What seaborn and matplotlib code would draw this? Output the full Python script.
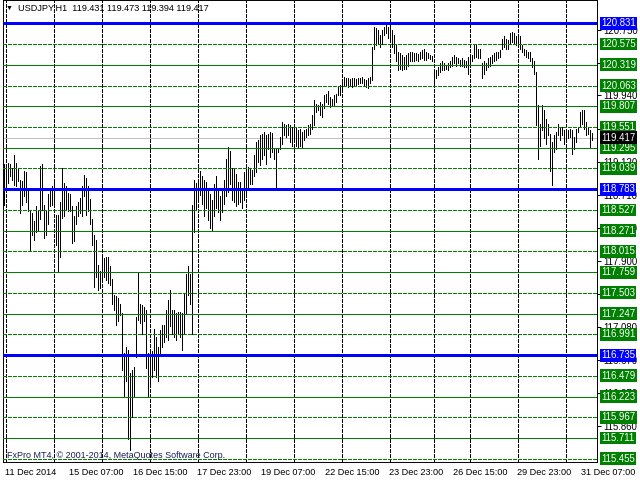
import numpy as np
import pandas as pd
import matplotlib
matplotlib.use('Agg')
import matplotlib.pyplot as plt
import matplotlib.transforms as mtransforms
import seaborn as sns

# hourly USDJPY bars (high / low per bar)
highs = [
    119.09, 119.07, 119.11, 119.09, 119.05, 119.20, 119.11, 119.03, 118.90, 118.88,
    119.01, 118.99, 118.78, 118.51, 118.49, 118.39, 118.57, 118.53, 119.07, 119.09,
    118.59, 118.53, 118.72, 118.78, 118.82, 118.86, 118.47, 118.47, 118.63, 119.05,
    118.86, 118.82, 118.74, 118.72, 118.57, 118.45, 118.57, 118.63, 118.68, 118.82,
    118.96, 118.92, 118.82, 118.66, 118.41, 118.22, 118.16, 117.85, 117.77, 117.93,
    117.93, 117.95, 117.95, 117.83, 117.68, 117.48, 117.46, 117.44, 117.37, 117.25,
    116.76, 116.84, 116.80, 116.51, 116.55, 116.59, 117.21, 117.75, 117.37, 117.35,
    117.33, 117.29, 116.76, 116.80, 116.78, 117.06, 116.96, 116.84, 117.04, 117.11,
    117.11, 117.29, 117.42, 117.54, 117.29, 117.29, 117.25, 117.27, 117.27, 117.25,
    117.50, 117.73, 117.83, 117.73, 118.59, 118.90, 118.86, 118.86, 119.01,
    118.95, 118.90, 118.87, 118.80, 118.72, 118.65, 118.85, 118.95, 118.80, 118.70,
    118.78, 118.90, 119.15, 119.30, 119.25, 119.05, 119.05, 118.97, 118.87, 118.87,
    118.80, 118.99, 119.06, 119.06, 119.04, 119.02, 119.20,
    119.37, 119.39, 119.45, 119.47, 119.49, 119.45, 119.47, 119.49, 119.48, 119.28,
    119.28, 119.28, 119.43, 119.61, 119.59, 119.57, 119.59, 119.58, 119.55, 119.59,
    119.55, 119.51, 119.53, 119.49, 119.51, 119.53, 119.57, 119.59, 119.70, 119.88,
    119.84, 119.82, 119.86, 119.84, 119.94, 119.96, 120.00, 119.92, 119.90, 119.94,
    119.96, 120.05, 120.07, 120.09, 120.17, 120.15, 120.15, 120.14, 120.15, 120.15,
    120.14, 120.15, 120.16, 120.17, 120.14, 120.13, 120.15, 120.17, 120.54, 120.79,
    120.77, 120.75, 120.69, 120.75, 120.79, 120.82, 120.79, 120.77,
    120.75, 120.69, 120.58, 120.48, 120.46, 120.44, 120.42, 120.44, 120.46, 120.48,
    120.48, 120.46, 120.47, 120.45, 120.48, 120.50, 120.52, 120.48, 120.46, 120.44,
    120.43, 120.27, 120.25, 120.29, 120.34, 120.36, 120.34, 120.31, 120.34, 120.36,
    120.42, 120.44, 120.42, 120.40, 120.38, 120.40, 120.38, 120.36, 120.42, 120.42,
    120.44, 120.56, 120.58, 120.52, 120.52, 120.34, 120.36, 120.34, 120.40, 120.42,
    120.44, 120.46, 120.48, 120.48, 120.50, 120.64, 120.67, 120.64, 120.62, 120.71,
    120.73, 120.71, 120.67, 120.69, 120.67, 120.56, 120.52, 120.50, 120.48, 120.48,
    120.40, 120.36, 120.23, 119.82, 119.59, 119.82, 119.76, 119.65, 119.59, 119.47,
    119.36, 119.45, 119.49, 119.59, 119.55, 119.55, 119.51, 119.51, 119.51, 119.53,
    119.51, 119.43, 119.53, 119.55, 119.74, 119.76, 119.76, 119.61, 119.55, 119.51,
    119.473,
]
lows = [
    118.59, 118.82, 118.86, 118.94, 118.90, 118.84, 118.82, 118.88, 118.49, 118.59,
    118.70, 118.63, 118.51, 118.03, 118.22, 118.16, 118.26, 118.28, 118.41, 118.53,
    118.18, 118.22, 118.35, 118.57, 118.59, 118.59, 118.10, 117.77, 117.95, 118.43,
    118.45, 118.53, 118.51, 118.51, 118.12, 118.14, 118.35, 118.45, 118.49, 118.45,
    118.70, 118.47, 118.51, 118.35, 118.10, 117.58, 117.70, 117.54, 117.56, 117.64,
    117.70, 117.66, 117.62, 117.60, 117.37, 117.29, 117.11, 117.15, 117.23, 116.55,
    116.22, 116.42, 115.70, 115.56, 115.97, 116.22, 116.71, 117.17, 117.13, 117.00,
    117.15, 116.57, 116.22, 116.35, 116.47, 116.55, 116.47, 116.42, 116.76, 116.84,
    116.90, 116.96, 116.92, 117.09, 117.00, 116.96, 116.92, 117.00, 116.96, 116.80,
    117.00, 117.25, 117.48, 117.37, 117.00, 118.26, 118.53, 118.66, 118.71,
    118.60, 118.45, 118.55, 118.40, 118.30, 118.27, 118.45, 118.55, 118.50, 118.40,
    118.50, 118.60, 118.70, 118.75, 118.85, 118.65, 118.62, 118.58, 118.60, 118.62,
    118.55, 118.65, 118.72, 118.78, 118.85, 118.85, 118.95,
    118.99, 119.12, 119.08, 119.16, 119.20, 119.10, 119.28, 119.18, 119.24, 119.16,
    118.81, 119.24, 119.28, 119.34, 119.45, 119.43, 119.45, 119.36, 119.32, 119.41,
    119.32, 119.30, 119.32, 119.30, 119.39, 119.43, 119.45, 119.47, 119.53, 119.57,
    119.74, 119.76, 119.70, 119.67, 119.78, 119.86, 119.84, 119.80, 119.82, 119.82,
    119.86, 119.94, 119.94, 120.00, 120.07, 120.07, 120.05, 120.06, 120.05, 120.07,
    120.07, 120.08, 120.09, 120.09, 120.06, 120.05, 120.03, 120.09, 120.13, 120.52,
    120.56, 120.58, 120.54, 120.58, 120.69, 120.71, 120.65, 120.65,
    120.54, 120.46, 120.36, 120.25, 120.27, 120.25, 120.27, 120.27, 120.31, 120.36,
    120.36, 120.36, 120.38, 120.36, 120.39, 120.40, 120.38, 120.38, 120.40, 120.39,
    120.36, 120.09, 120.15, 120.19, 120.23, 120.25, 120.25, 120.27, 120.25, 120.29,
    120.31, 120.34, 120.31, 120.34, 120.31, 120.31, 120.29, 120.29, 120.21, 120.31,
    120.36, 120.40, 120.42, 120.40, 120.40, 120.15, 120.21, 120.25, 120.29, 120.31,
    120.34, 120.36, 120.38, 120.40, 120.42, 120.52, 120.54, 120.52, 120.52, 120.58,
    120.60, 120.58, 120.56, 120.56, 120.52, 120.48, 120.44, 120.42, 120.40, 120.36,
    120.29, 120.21, 119.57, 119.16, 119.32, 119.51, 119.41, 119.34, 119.45, 119.01,
    118.83, 119.24, 119.28, 119.45, 119.39, 119.45, 119.34, 119.37, 119.41, 119.43,
    119.22, 119.28, 119.37, 119.49, 119.55, 119.59, 119.53, 119.45, 119.47, 119.30,
    119.394,
]

# horizontal levels drawn on the chart
solid_levels = [120.319, 119.807, 119.295, 118.271, 117.759, 117.247, 116.223, 115.711]
dashed_levels = [120.575, 120.063, 119.551, 119.039, 118.527, 118.015, 117.503,
                 116.991, 116.479, 115.967, 115.455]
blue_levels = [120.831, 118.783, 116.735]
bid = 119.417

# price scale ticks on the right (some are hidden under the level boxes)
price_ticks = [120.750, 120.340, 119.940, 119.530, 119.120, 118.710, 118.300,
               117.900, 117.490, 117.080, 116.670, 116.270, 115.860]
hidden_ticks = [120.340, 119.530, 117.490]

# bar index of first bar of each day (vertical grid) and time labels
day_starts = [1, 25, 49, 73, 97, 121, 145, 169, 193, 215, 233, 257, 281]
time_ticks = [0, 32, 64, 96, 128, 160, 192, 224, 256, 288]
time_labels = ['11 Dec 2014', '15 Dec 07:00', '16 Dec 15:00', '17 Dec 23:00',
               '19 Dec 07:00', '22 Dec 15:00', '23 Dec 23:00', '26 Dec 15:00',
               '29 Dec 23:00', '31 Dec 07:00']

header = 'USDJPY,H1  119.431 119.473 119.394 119.417'
copyright_txt = 'FxPro MT4, \u00a9 2001-2014, MetaQuotes Software Corp.'

sns.set_style('white')
plt.rcParams['font.family'] = ['Liberation Sans', 'DejaVu Sans']

fig = plt.figure(figsize=(6.4, 4.8), dpi=100)
ax = fig.add_axes([3 / 640, 18 / 480, 594 / 640, 462 / 480])

# long table: two points (low, high) per bar -> one vertical stroke per unit
n = len(highs)
bars = pd.DataFrame({
    'bar': np.repeat(np.arange(n), 2),
    'price': np.column_stack([lows, highs]).ravel(),
})
sns.lineplot(data=bars, x='bar', y='price', units='bar', estimator=None,
             color='black', lw=0.72, antialiased=False, legend=False, ax=ax,
             zorder=2)

# day separators
for d in day_starts:
    ax.axvline(d, color='black', lw=0.6, ls=(0, (3.6, 2.4)), zorder=1, antialiased=False)

ax.axhline(bid, color='#c0c0c0', lw=0.6, zorder=1.5, antialiased=False)
for lv in solid_levels:
    ax.axhline(lv, color='#008000', lw=0.6, zorder=3, antialiased=False)
for lv in dashed_levels:
    ax.axhline(lv, color='#008000', lw=0.6, ls=(0, (3.6, 2.4)), zorder=3, antialiased=False)
for lv in blue_levels:
    ax.axhline(lv, color='#0000ff', lw=2.0, zorder=3.5, antialiased=False)

ax.set_xlim(-0.5, 296.5)
ax.set_ylim(115.415, 121.119)
ax.set_xlabel('')
ax.set_ylabel('')

for sp in ax.spines.values():
    sp.set_color('black')
    sp.set_linewidth(0.7)

# time axis
ax.set_xticks(time_ticks)
ax.set_xticklabels(time_labels, ha='left', fontsize=6.6)
ax.tick_params(axis='x', direction='out', length=4, width=0.7, pad=0.5, colors='black')
shift = mtransforms.ScaledTranslation(1 / 100, 0, fig.dpi_scale_trans)
for lbl in ax.get_xticklabels():
    lbl.set_transform(lbl.get_transform() + shift)

# price axis on the right
ax.yaxis.tick_right()
ax.set_yticks(price_ticks)
ax.set_yticklabels(['' if v in hidden_ticks else f'{v:.3f}' for v in price_ticks],
                   fontsize=6.9)
ax.tick_params(axis='y', direction='out', length=3, width=0.7, pad=1.5, colors='black')

# coloured price boxes
lab_tr = mtransforms.blended_transform_factory(ax.transAxes, ax.transData)
lab_tr = lab_tr + mtransforms.ScaledTranslation(4 / 100, 0, fig.dpi_scale_trans)


def price_box(level, face):
    ax.text(1.0, level, f'{level:.3f}', transform=lab_tr, ha='left', va='center',
            color='white', fontsize=6.9, clip_on=False, zorder=6,
            bbox=dict(boxstyle='square,pad=0.15', fc=face, ec='none'))


for lv in solid_levels + dashed_levels:
    price_box(lv, '#008000')
for lv in blue_levels:
    price_box(lv, '#0000ff')
price_box(bid, 'black')

# header and footer texts
fig.text(6 / 640, 1 - 8 / 480, '\u25bc', fontsize=5, va='center', ha='left', color='black')
fig.text(18 / 640, 1 - 8 / 480, header, fontsize=6.6, va='center', ha='left', color='black')
fig.text(7 / 640, 1 - 455 / 480, copyright_txt, fontsize=6.5, va='center', ha='left',
         color='#1c1c5c')

fig.savefig('out.png', dpi=100)
